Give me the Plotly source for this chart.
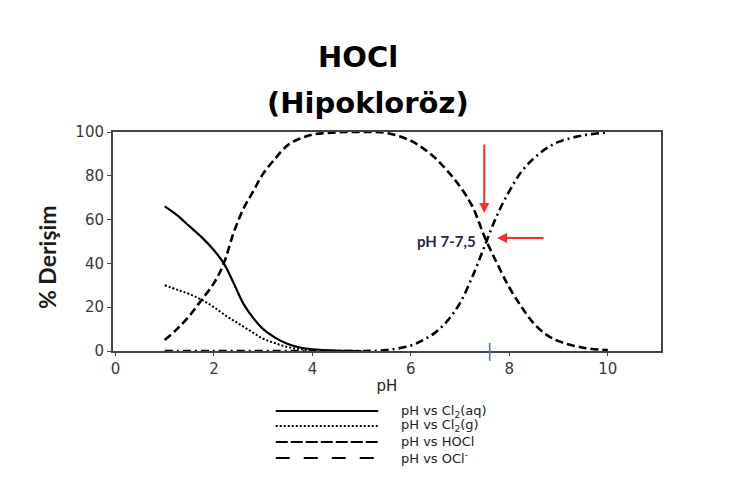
import plotly.graph_objects as go

# ---------------- data ----------------
x_cl2aq = [1.0, 1.25, 1.5, 1.75, 2.0, 2.2, 2.4, 2.6, 2.8, 3.0, 3.25, 3.5, 3.75, 4.0, 4.5, 5.0]
y_cl2aq = [66, 62, 57, 52, 46, 40, 31, 21.5, 15, 10, 6, 3.2, 1.6, 0.8, 0.2, 0]

x_cl2g = [1.0, 1.25, 1.5, 1.75, 2.0, 2.25, 2.5, 2.75, 3.0, 3.25, 3.5, 3.75, 4.0]
y_cl2g = [30, 28, 26, 23.4, 20, 16, 12.5, 9, 5.6, 3.5, 1.8, 0.8, 0.2]

x_hocl = [1.0, 1.25, 1.5, 1.75, 2.0, 2.2, 2.4, 2.6, 2.8, 3.0, 3.25, 3.5, 3.75, 4.0, 4.5,
          5.0, 5.5, 6.0, 6.25, 6.5, 6.75, 7.0, 7.25, 7.5, 7.75, 8.0, 8.25, 8.5, 8.75, 9.0, 9.5, 10.0]
y_hocl = [5, 10, 16, 23.4, 31, 40, 54, 65, 73, 81, 88, 94, 97, 98.8, 99.8,
          100, 99.6, 96, 92.5, 88, 82, 75, 66, 52, 40, 29, 20, 12.5, 7.5, 4.5, 1.5, 0.4]

x_ocl = [1.0, 2.0, 3.0, 4.0, 5.0, 5.5, 6.0, 6.25, 6.5, 6.75, 7.0, 7.25, 7.5, 7.75,
         8.0, 8.25, 8.5, 8.75, 9.0, 9.5, 10.0]
y_ocl = [0, 0, 0, 0, 0, 0.4, 2.5, 5, 8.5, 14, 22, 34, 48, 62,
         73, 82, 88, 92.5, 95.5, 98.5, 99.8]

x_ticks = [0, 2, 4, 6, 8, 10]
y_ticks = [0, 20, 40, 60, 80, 100]

legend_labels = ["pH vs Cl<sub>2</sub>(aq)", "pH vs Cl<sub>2</sub>(g)",
                 "pH vs HOCl", "pH vs OCl<sup>-</sup>"]

# ---------------- figure ----------------
fig = go.Figure()

fig.add_trace(go.Scatter(x=x_cl2aq, y=y_cl2aq, mode="lines", name="pH vs Cl2(aq)",
                         line=dict(color="black", width=2.2, shape="spline")))
fig.add_trace(go.Scatter(x=x_cl2g, y=y_cl2g, mode="lines", name="pH vs Cl2(g)",
                         line=dict(color="black", width=2, dash="2px,2px", shape="spline")))
fig.add_trace(go.Scatter(x=x_hocl, y=y_hocl, mode="lines", name="pH vs HOCl",
                         line=dict(color="black", width=2.6, dash="8px,4px", shape="spline")))
fig.add_trace(go.Scatter(x=x_ocl, y=y_ocl, mode="lines", name="pH vs OCl-",
                         line=dict(color="black", width=2.6, dash="8px,4px,2px,4px", shape="spline")))

tickfont = dict(family="DejaVu Sans", size=15, color="#3a3a3a")

fig.update_xaxes(range=[-0.05, 11.08], tickvals=x_ticks, ticks="outside", ticklen=3,
                 tickcolor="#444444", showline=True, linecolor="#444444", linewidth=2,
                 mirror=True, showgrid=False, zeroline=False, tickfont=tickfont,
                 title=dict(text="pH", font=dict(family="DejaVu Sans", size=15, color="#222222"),
                            standoff=3))
fig.update_yaxes(range=[0, 100], tickvals=y_ticks, ticks="outside", ticklen=4,
                 tickcolor="#444444", showline=True, linecolor="#444444", linewidth=2,
                 mirror=True, showgrid=False, zeroline=False, tickfont=tickfont)

annotations = [
    dict(text="<b>HOCl</b>", xref="paper", yref="paper", x=0.447, y=1.342,
         xanchor="center", yanchor="middle",
         showarrow=False, font=dict(family="DejaVu Sans", size=29, color="black")),
    dict(text="<b>(Hipokloröz)</b>", xref="paper", yref="paper", x=0.465, y=1.132,
         xanchor="center", yanchor="middle",
         showarrow=False, font=dict(family="DejaVu Sans", size=29, color="black")),
    dict(text="<b>% Derişim</b>", xref="paper", yref="paper", x=-0.12, y=0.43,
         xanchor="center", yanchor="middle",
         textangle=-90, showarrow=False,
         font=dict(family="Lato", size=23, color="#1a1a1a")),
    dict(text="<b>pH 7-7,5</b>", x=6.73, y=50.2, showarrow=False,
         xanchor="center", yanchor="middle",
         font=dict(family="Lato", size=15, color="#1f2a44")),
    dict(text="", x=7.49, y=63, ax=0, ay=-70, showarrow=True, arrowhead=2,
         arrowsize=1, arrowwidth=2, arrowcolor="#ff2a2a"),
    dict(text="", x=7.75, y=51.6, ax=48, ay=0, showarrow=True, arrowhead=2,
         arrowsize=1, arrowwidth=2, arrowcolor="#ff2a2a"),
]

# custom legend (text part)
leg_y = [-0.274, -0.342, -0.415, -0.489]
for lab, yy in zip(legend_labels, leg_y):
    annotations.append(dict(text=lab, xref="paper", yref="paper", x=0.522, y=yy,
                            xanchor="left", yanchor="middle", showarrow=False,
                            font=dict(family="DejaVu Sans", size=13, color="#222222")))

leg_dash = ["solid", "2px,2px", "12px,3px", "14px,14px"]
shapes = []
for d, yy in zip(leg_dash, leg_y):
    shapes.append(dict(type="line", xref="paper", yref="paper", x0=0.297, x1=0.484,
                       y0=yy, y1=yy, line=dict(color="black", width=2, dash=d)))

# blue marker on x axis
shapes.append(dict(type="line", xref="x", yref="paper", x0=7.6, x1=7.6,
                   y0=-0.045, y1=0.037, line=dict(color="#4472c4", width=1.5)))

fig.update_layout(
    width=744, height=500,
    margin=dict(l=113, r=83, t=132, b=149),
    plot_bgcolor="white", paper_bgcolor="white",
    showlegend=False,
    annotations=annotations,
    shapes=shapes,
)

fig.write_html("out.html")
